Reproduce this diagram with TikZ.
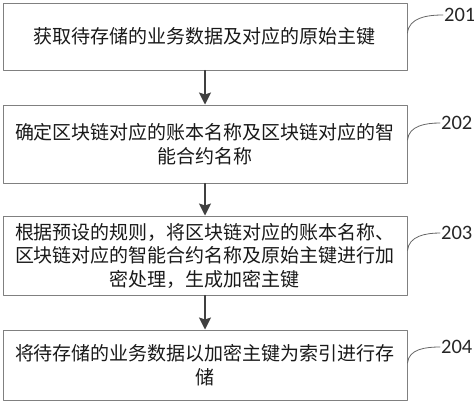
\documentclass[tikz,border=0pt]{standalone}
\usepackage{fontspec}
\newfontfamily\cjk{Noto Sans CJK SC}
\newfontfamily\numfont{Carlito}
\usetikzlibrary{arrows.meta}

\begin{document}
\begin{tikzpicture}[x=1pt,y=-1pt,>=Stealth,line cap=round,line join=round,
    stepbox/.style={draw=black!50,line width=1pt,minimum width=404pt,
      align=center,inner sep=0pt,text=black!90,
      font=\cjk\fontsize{19}{23.5}\selectfont},
    flow/.style={->,draw=black!75,line width=1.3pt,
      arrows={-Stealth[length=12pt,width=12pt,inset=2pt]}},
    steplabel/.style={anchor=west,inner sep=1pt,text=black!85,
      font=\numfont\fontsize{20.5}{22}\selectfont},
    lead/.style={draw=black!60,line width=.8pt}]
    \useasboundingbox (0,0) rectangle (474,410);

    % The four steps of the method.
    \node[stepbox,minimum height=67pt] (box1) at (205,36.5)
      {获取待存储的业务数据及对应的原始主键};
    \node[stepbox,minimum height=78pt] (box2) at (205,144)
      {确定区块链对应的账本名称及区块链对应的智\\能合约名称};
    \node[stepbox,minimum height=79pt] (box3) at (205,255.5)
      {根据预设的规则，将区块链对应的账本名称、\\区块链对应的智能合约名称及原始主键进行加\\密处理，生成加密主键};
    \node[stepbox,minimum height=70pt] (box4) at (205,365)
      {将待存储的业务数据以加密主键为索引进行存\\储};

    % The arrows between the steps.
    \draw[flow] (box1) -- (box2);
    \draw[flow] (box2) -- (box3);
    \draw[flow] (box3) -- (box4);

    % The step numbers and their leader lines.
    \node[steplabel] (lab1) at (443,15) {201};
    \node[steplabel] (lab2) at (440,123) {202};
    \node[steplabel] (lab3) at (440,233) {203};
    \node[steplabel] (lab4) at (440,347) {204};
    \draw[lead] ([yshift=3.5pt]box1.east) to[out=85,in=180] (lab1.west);
    \draw[lead] ([yshift=4pt]box2.east) to[out=85,in=180] (lab2.west);
    \draw[lead] ([yshift=5pt]box3.east) to[out=85,in=180] (lab3.west);
    \draw[lead] ([yshift=2pt]box4.east) to[out=85,in=180] (lab4.west);
  \end{tikzpicture}
\end{document}
